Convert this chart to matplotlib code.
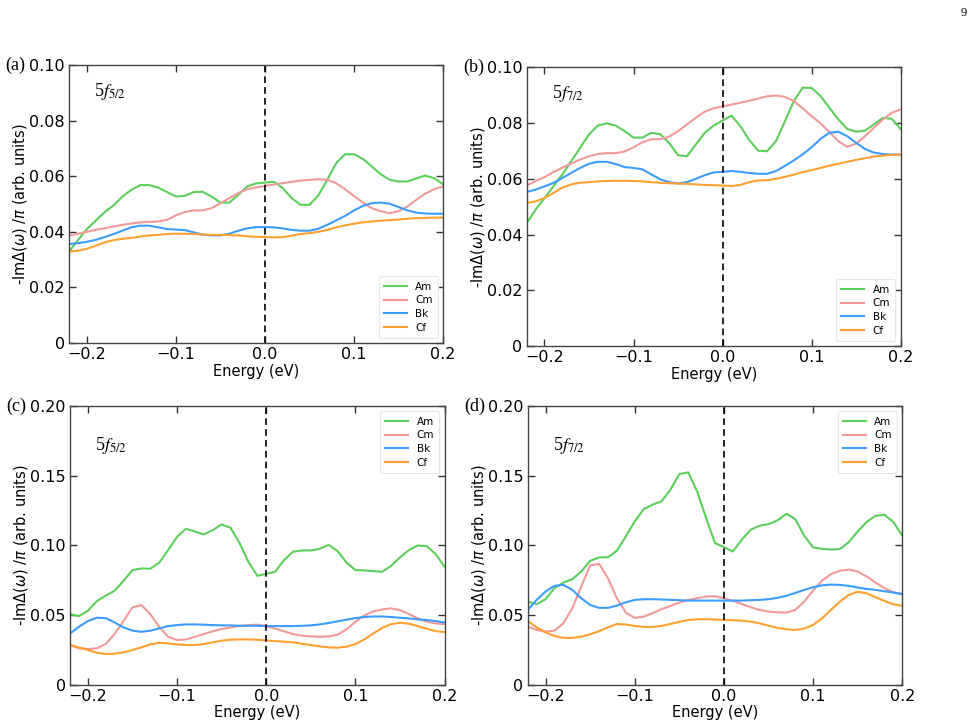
"""
Hybridization function -Im Delta(w)/pi for Am, Cm, Bk, Cf (5f5/2 and 5f7/2)
"""
import numpy as np
import matplotlib
matplotlib.use("Agg")
import matplotlib.pyplot as plt
from matplotlib.ticker import FuncFormatter, MultipleLocator

# energy grid (eV)
energy = [-0.22, -0.21, -0.20, -0.19, -0.18, -0.17, -0.16, -0.15, -0.14, -0.13, -0.12,
          -0.11, -0.10, -0.09, -0.08, -0.07, -0.06, -0.05, -0.04, -0.03, -0.02, -0.01,
          0.00, 0.01, 0.02, 0.03, 0.04, 0.05, 0.06, 0.07, 0.08, 0.09, 0.10, 0.11,
          0.12, 0.13, 0.14, 0.15, 0.16, 0.17, 0.18, 0.19, 0.20]

# (a) 5f5/2, upper row
a_am = [0.0329, 0.0370, 0.0410, 0.0440, 0.0471, 0.0495, 0.0527, 0.0551, 0.0568, 0.0568, 0.0559,
        0.0543, 0.0527, 0.0529, 0.0543, 0.0544, 0.0527, 0.0505, 0.0505, 0.0533, 0.0563, 0.0574,
        0.0577, 0.0580, 0.0557, 0.0521, 0.0497, 0.0497, 0.0531, 0.0587, 0.0647, 0.0679, 0.0679,
        0.0662, 0.0635, 0.0607, 0.0587, 0.0581, 0.0581, 0.0592, 0.0602, 0.0593, 0.0571]
a_cm = [0.0387, 0.0393, 0.0400, 0.0407, 0.0413, 0.0419, 0.0425, 0.0430, 0.0434, 0.0436, 0.0437,
        0.0443, 0.0459, 0.0471, 0.0477, 0.0477, 0.0485, 0.0503, 0.0521, 0.0539, 0.0553, 0.0560,
        0.0565, 0.0570, 0.0575, 0.0580, 0.0584, 0.0587, 0.0589, 0.0587, 0.0575, 0.0553, 0.0529,
        0.0505, 0.0485, 0.0474, 0.0467, 0.0474, 0.0491, 0.0515, 0.0537, 0.0553, 0.0563]
a_bk = [0.0356, 0.0359, 0.0364, 0.0371, 0.0381, 0.0392, 0.0404, 0.0416, 0.0422, 0.0422, 0.0416,
        0.0410, 0.0408, 0.0406, 0.0398, 0.0390, 0.0387, 0.0387, 0.0393, 0.0404, 0.0412, 0.0417,
        0.0417, 0.0416, 0.0412, 0.0407, 0.0404, 0.0404, 0.0411, 0.0425, 0.0441, 0.0457, 0.0477,
        0.0493, 0.0503, 0.0505, 0.0501, 0.0489, 0.0477, 0.0469, 0.0466, 0.0465, 0.0465]
a_cf = [0.0329, 0.0332, 0.0339, 0.0350, 0.0362, 0.0370, 0.0375, 0.0378, 0.0383, 0.0387, 0.0389,
        0.0392, 0.0393, 0.0393, 0.0392, 0.0390, 0.0389, 0.0389, 0.0388, 0.0387, 0.0384, 0.0382,
        0.0381, 0.0380, 0.0381, 0.0386, 0.0392, 0.0395, 0.0400, 0.0407, 0.0416, 0.0423, 0.0429,
        0.0434, 0.0437, 0.0440, 0.0442, 0.0444, 0.0447, 0.0449, 0.0450, 0.0451, 0.0451]

# (b) 5f7/2, upper row
b_am = [0.0441, 0.0489, 0.0531, 0.0573, 0.0615, 0.0663, 0.0711, 0.0759, 0.0791, 0.0799, 0.0791,
        0.0771, 0.0748, 0.0748, 0.0765, 0.0760, 0.0729, 0.0685, 0.0681, 0.0723, 0.0765, 0.0791,
        0.0809, 0.0827, 0.0789, 0.0739, 0.0701, 0.0699, 0.0735, 0.0806, 0.0879, 0.0927, 0.0926,
        0.0897, 0.0855, 0.0813, 0.0779, 0.0769, 0.0773, 0.0795, 0.0819, 0.0815, 0.0779]
b_cm = [0.0576, 0.0592, 0.0606, 0.0624, 0.0640, 0.0655, 0.0669, 0.0681, 0.0689, 0.0692, 0.0692,
        0.0698, 0.0713, 0.0731, 0.0742, 0.0742, 0.0751, 0.0771, 0.0795, 0.0819, 0.0841, 0.0853,
        0.0860, 0.0866, 0.0873, 0.0880, 0.0888, 0.0896, 0.0899, 0.0894, 0.0879, 0.0853, 0.0825,
        0.0799, 0.0768, 0.0735, 0.0715, 0.0726, 0.0753, 0.0783, 0.0813, 0.0837, 0.0849]
b_bk = [0.0553, 0.0561, 0.0573, 0.0585, 0.0603, 0.0621, 0.0639, 0.0654, 0.0661, 0.0661, 0.0653,
        0.0642, 0.0639, 0.0634, 0.0616, 0.0598, 0.0588, 0.0583, 0.0588, 0.0600, 0.0613, 0.0623,
        0.0625, 0.0628, 0.0625, 0.0621, 0.0618, 0.0618, 0.0628, 0.0646, 0.0666, 0.0688, 0.0713,
        0.0743, 0.0765, 0.0769, 0.0753, 0.0729, 0.0707, 0.0694, 0.0689, 0.0687, 0.0687]
b_cf = [0.0513, 0.0519, 0.0531, 0.0549, 0.0568, 0.0580, 0.0586, 0.0588, 0.0591, 0.0592, 0.0593,
        0.0593, 0.0592, 0.0591, 0.0588, 0.0586, 0.0584, 0.0583, 0.0582, 0.0580, 0.0578, 0.0577,
        0.0576, 0.0574, 0.0578, 0.0588, 0.0594, 0.0595, 0.0600, 0.0607, 0.0615, 0.0624, 0.0631,
        0.0639, 0.0647, 0.0654, 0.0661, 0.0668, 0.0674, 0.0680, 0.0683, 0.0686, 0.0687]

# (c) 5f5/2, lower row
c_am = [0.0507, 0.0493, 0.0531, 0.0600, 0.0639, 0.0675, 0.0746, 0.0823, 0.0835, 0.0833, 0.0876,
        0.0967, 0.1062, 0.1120, 0.1100, 0.1079, 0.1110, 0.1151, 0.1127, 0.1019, 0.0883, 0.0782,
        0.0797, 0.0811, 0.0895, 0.0955, 0.0964, 0.0964, 0.0976, 0.1005, 0.0959, 0.0878, 0.0823,
        0.0821, 0.0816, 0.0811, 0.0854, 0.0914, 0.0967, 0.1000, 0.0995, 0.0938, 0.0847]
c_cm = [0.0285, 0.0261, 0.0256, 0.0261, 0.0292, 0.0364, 0.0457, 0.0555, 0.0572, 0.0507, 0.0416,
        0.0344, 0.0320, 0.0325, 0.0344, 0.0364, 0.0383, 0.0400, 0.0411, 0.0423, 0.0428, 0.0431,
        0.0421, 0.0404, 0.0383, 0.0364, 0.0352, 0.0347, 0.0344, 0.0347, 0.0359, 0.0397, 0.0452,
        0.0498, 0.0526, 0.0541, 0.0548, 0.0536, 0.0507, 0.0476, 0.0452, 0.0440, 0.0435]
c_bk = [0.0368, 0.0416, 0.0457, 0.0481, 0.0478, 0.0447, 0.0411, 0.0388, 0.0380, 0.0388, 0.0404,
        0.0421, 0.0428, 0.0433, 0.0433, 0.0431, 0.0428, 0.0426, 0.0426, 0.0423, 0.0423, 0.0423,
        0.0421, 0.0421, 0.0421, 0.0421, 0.0423, 0.0426, 0.0433, 0.0443, 0.0455, 0.0467, 0.0478,
        0.0486, 0.0490, 0.0490, 0.0486, 0.0481, 0.0476, 0.0469, 0.0464, 0.0457, 0.0447]
c_cf = [0.0285, 0.0268, 0.0249, 0.0230, 0.0220, 0.0223, 0.0232, 0.0249, 0.0268, 0.0289, 0.0301,
        0.0297, 0.0289, 0.0285, 0.0285, 0.0292, 0.0304, 0.0316, 0.0323, 0.0325, 0.0325, 0.0323,
        0.0318, 0.0313, 0.0309, 0.0304, 0.0294, 0.0285, 0.0275, 0.0268, 0.0266, 0.0273, 0.0292,
        0.0325, 0.0368, 0.0407, 0.0435, 0.0445, 0.0438, 0.0421, 0.0402, 0.0385, 0.0378]

# (d) 5f7/2, lower row
d_am = [0.0597, 0.0578, 0.0614, 0.0693, 0.0734, 0.0758, 0.0813, 0.0890, 0.0914, 0.0916, 0.0962,
        0.1065, 0.1173, 0.1261, 0.1293, 0.1317, 0.1400, 0.1513, 0.1525, 0.1388, 0.1197, 0.1017,
        0.0988, 0.0957, 0.1041, 0.1113, 0.1142, 0.1153, 0.1180, 0.1228, 0.1190, 0.1070, 0.0986,
        0.0976, 0.0971, 0.0974, 0.1024, 0.1101, 0.1168, 0.1213, 0.1221, 0.1168, 0.1070]
d_cm = [0.0417, 0.0393, 0.0381, 0.0388, 0.0441, 0.0549, 0.0705, 0.0856, 0.0868, 0.0765, 0.0621,
        0.0518, 0.0480, 0.0489, 0.0513, 0.0542, 0.0566, 0.0590, 0.0609, 0.0621, 0.0633, 0.0635,
        0.0621, 0.0602, 0.0580, 0.0556, 0.0537, 0.0525, 0.0520, 0.0518, 0.0537, 0.0597, 0.0676,
        0.0748, 0.0794, 0.0818, 0.0827, 0.0813, 0.0777, 0.0734, 0.0693, 0.0664, 0.0652]
d_bk = [0.0537, 0.0609, 0.0669, 0.0710, 0.0717, 0.0681, 0.0621, 0.0573, 0.0552, 0.0552, 0.0568,
        0.0592, 0.0609, 0.0614, 0.0614, 0.0612, 0.0609, 0.0607, 0.0604, 0.0604, 0.0604, 0.0604,
        0.0604, 0.0604, 0.0604, 0.0607, 0.0609, 0.0614, 0.0624, 0.0638, 0.0659, 0.0681, 0.0700,
        0.0714, 0.0719, 0.0717, 0.0710, 0.0698, 0.0688, 0.0681, 0.0671, 0.0662, 0.0650]
d_cf = [0.0458, 0.0412, 0.0376, 0.0350, 0.0336, 0.0336, 0.0345, 0.0362, 0.0384, 0.0412, 0.0436,
        0.0432, 0.0422, 0.0415, 0.0415, 0.0422, 0.0436, 0.0451, 0.0465, 0.0470, 0.0470, 0.0468,
        0.0465, 0.0463, 0.0460, 0.0453, 0.0441, 0.0424, 0.0408, 0.0398, 0.0393, 0.0403, 0.0429,
        0.0477, 0.0537, 0.0597, 0.0645, 0.0667, 0.0657, 0.0628, 0.0602, 0.0578, 0.0566]

elements = ["Am", "Cm", "Bk", "Cf"]
colors = ["#5cce5c", "#f29a9a", "#3d9cff", "#ffa030"]

panels = [
    ("(a)", r"5$f_{\mathrm{5/2}}$", [a_am, a_cm, a_bk, a_cf], 0.10, 0.02, "lower right", 0.905),
    ("(b)", r"5$f_{\mathrm{7/2}}$", [b_am, b_cm, b_bk, b_cf], 0.10, 0.02, "lower right", 0.905),
    ("(c)", r"5$f_{\mathrm{5/2}}$", [c_am, c_cm, c_bk, c_cf], 0.20, 0.05, "upper right", 0.86),
    ("(d)", r"5$f_{\mathrm{7/2}}$", [d_am, d_cm, d_bk, d_cf], 0.20, 0.05, "upper right", 0.86),
]

# axes rectangles in figure fraction (left, bottom, width, height)
rects = [
    (0.0706, 0.5282, 0.3824, 0.3824),
    (0.5385, 0.5240, 0.3824, 0.3834),
    (0.0716, 0.0582, 0.3830, 0.3830),
    (0.5396, 0.0582, 0.3830, 0.3830),
]


def ytick_fmt(v, pos):
    if abs(v) < 1e-9:
        return "0"
    return f"{v:.2f}"


fig = plt.figure(figsize=(9.78, 7.27), dpi=100)
fig.text(0.989, 0.982, "9", fontsize=9, family="Liberation Serif", ha="right", va="center")

for rect, (tag, orb, series, ymax, ystep, loc, ty) in zip(rects, panels):
    ax = fig.add_axes(rect)
    for vals, name, col in zip(series, elements, colors):
        ax.plot(energy, vals, color=col, lw=1.5, label=name)
    ax.axvline(0, color="black", ls="--", lw=1.2, dashes=(4, 2.5))

    ax.set_xlim(-0.22, 0.2)
    ax.set_ylim(0, ymax)
    ax.xaxis.set_major_locator(MultipleLocator(0.1))
    ax.yaxis.set_major_locator(MultipleLocator(ystep))
    ax.yaxis.set_major_formatter(FuncFormatter(ytick_fmt))
    ax.tick_params(direction="in", top=True, right=True, length=5, width=1,
                   labelsize=11.5, color="#333333", pad=3)
    for sp in ax.spines.values():
        sp.set_color("#444444")
        sp.set_linewidth(1.0)

    ax.set_xlabel("Energy (eV)", fontsize=10.5, labelpad=1)
    ax.set_ylabel(r"-Im$\Delta(\omega)$ /$\pi$ (arb. units)", fontsize=10.5, labelpad=0)

    ax.text(-0.17, 1.0, tag, transform=ax.transAxes, fontsize=13,
            family="Liberation Serif", ha="left", va="center")
    ax.text(0.067, ty, orb, transform=ax.transAxes, fontsize=13,
            family="Liberation Serif", math_fontfamily="stix", ha="left", va="center")

    leg = ax.legend(loc=loc, fontsize=7.5, handlelength=2.2, labelspacing=0.35,
                    borderpad=0.5, borderaxespad=0.5, handletextpad=0.8, framealpha=1.0)
    leg.get_frame().set_edgecolor("#e6e6e6")
    leg.get_frame().set_linewidth(0.8)

plt.savefig("out.png", dpi=100)
